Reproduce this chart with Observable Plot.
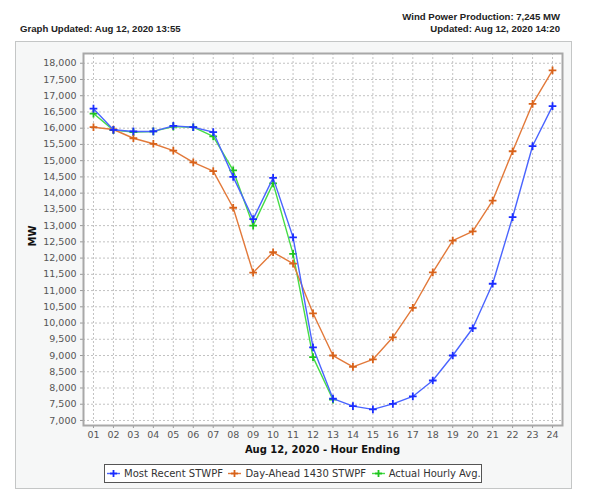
<!DOCTYPE html>
<html>
<head>
<meta charset="utf-8">
<script src="https://cdn.jsdelivr.net/npm/d3@7"></script>
<script src="https://cdn.jsdelivr.net/npm/@observablehq/plot@0.6"></script>
<style>
  html, body { margin: 0; padding: 0; background: #ffffff; }
  body { position: relative; width: 600px; height: 502px; overflow: hidden; font-family: "DejaVu Sans", sans-serif; }
  .hdr { position: absolute; font-family: "Liberation Sans", Arial, sans-serif; font-weight: bold; font-size: 9.6px; color: #222; white-space: nowrap; line-height: 12px; }
  #panel { position: absolute; left: 15px; top: 41px; width: 555px; height: 446px; background: #f6f7f7; border: 1px solid #c4c6c6; }
  #chart { position: absolute; left: 15px; top: 41px; }
  #xtitle { position: absolute; left: 83px; width: 479px; top: 444px; text-align: center; font-weight: bold; font-size: 10px; color: #111; }
  #ytitle { position: absolute; left: 31.5px; top: 236px; transform: translate(-50%, -50%) rotate(-90deg); font-weight: bold; font-size: 10px; color: #111; }
  #legend { position: absolute; left: 104px; top: 464px; width: 376px; height: 17px; background: #fff; border: 1.5px solid #555; display: flex; align-items: center; font-size: 10px; color: #333; white-space: nowrap; }
  .li { display: flex; align-items: center; }
  .li svg { margin-left: 2px; margin-right: 4px; }
  .li span { margin-right: 3.5px; }
</style>
</head>
<body>
<div id="panel"></div>
<div class="hdr" style="left:20px; top:23px;">Graph Updated: Aug 12, 2020 13:55</div>
<div class="hdr" style="right:40px; top:11px; text-align:right;">Wind Power Production: 7,245 MW<br>Updated: Aug 12, 2020 14:20</div>
<div id="chart"></div>
<div id="xtitle">Aug 12, 2020 - Hour Ending</div>
<div id="ytitle">MW</div>
<div id="legend"></div>
<script>
const hours = ["01","02","03","04","05","06","07","08","09","10","11","12","13","14","15","16","17","18","19","20","21","22","23","24"];
const mostRecent = [16600, 15950, 15900, 15900, 16070, 16030, 15880, 14500, 13200, 14470, 12640, 9250, 7670, 7440, 7340, 7510, 7740, 8230, 9000, 9840, 11210, 13260, 15450, 16680];
const dayAhead = [16030, 15960, 15690, 15520, 15310, 14950, 14680, 13550, 11550, 12180, 11830, 10300, 9000, 8650, 8880, 9560, 10470, 11560, 12540, 12820, 13770, 15290, 16750, 17780];
const actual = [16450, 15940, 15880, 15900, 16050, 16030, 15750, 14700, 13000, 14300, 12130, 8950, 7640];
const seriesNames = ["Most Recent STWPF", "Day-Ahead 1430 STWPF", "Actual Hourly Avg."];
const lineColors = ["#4a64ff", "#e2793a", "#46dc46"];
const markColors = ["#1a2cff", "#d8621a", "#1fc41f"];
const yTicks = d3.range(7000, 18001, 500);

const rows = (vals, k) => vals.map((v, i) => ({hour: hours[i], value: v, series: seriesNames[k]}));
const sBlue = rows(mostRecent, 0);
const sOrange = rows(dayAhead, 1);
const sGreen = rows(actual, 2);

function layer(data, k) {
  return [
    Plot.line(data, {x: "hour", y: "value", stroke: lineColors[k], strokeWidth: 1.4}),
    Plot.dot(data, {x: "hour", y: "value", symbol: "plus", r: 2.6, stroke: markColors[k], strokeWidth: 1.8})
  ];
}

const chart = Plot.plot({
  width: 557,
  height: 420,
  marginLeft: 68,
  marginRight: 10,
  marginTop: 12,
  marginBottom: 36,
  style: {background: "transparent", fontFamily: "DejaVu Sans", fontSize: "9.5px", color: "#555", overflow: "visible"},
  x: {type: "point", domain: hours, padding: 0.5, round: false, label: null},
  y: {domain: [6845, 18300], label: null},
  marks: [
    Plot.frame({fill: "white", stroke: null}),
    Plot.ruleY(yTicks, {stroke: "#c2c2c2", strokeDasharray: "2,2", strokeWidth: 1}),
    Plot.ruleX(hours, {stroke: "#c2c2c2", strokeDasharray: "2,2", strokeWidth: 1}),
    Plot.axisY({ticks: yTicks, tickFormat: d3.format(","), tickSize: 3, tickPadding: 4, stroke: "#999", label: null}),
    Plot.axisX({ticks: hours, tickSize: 3, tickPadding: 3, stroke: "#999", label: null}),
    Plot.frame({stroke: "#a8a8a8", strokeWidth: 2}),
    ...layer(sGreen, 2),
    ...layer(sOrange, 1),
    ...layer(sBlue, 0)
  ]
});
document.getElementById("chart").appendChild(chart);

const legend = document.getElementById("legend");
seriesNames.forEach((name, k) => {
  const item = document.createElement("div");
  item.className = "li";
  item.innerHTML = `<svg width="13" height="9"><line x1="0" y1="4.5" x2="13" y2="4.5" stroke="${lineColors[k]}" stroke-width="1.4"/><line x1="6.5" y1="1" x2="6.5" y2="8" stroke="${markColors[k]}" stroke-width="1.8"/><line x1="3" y1="4.5" x2="10" y2="4.5" stroke="${markColors[k]}" stroke-width="1.8"/></svg><span>${name}</span>`;
  legend.appendChild(item);
});
</script>
</body>
</html>
